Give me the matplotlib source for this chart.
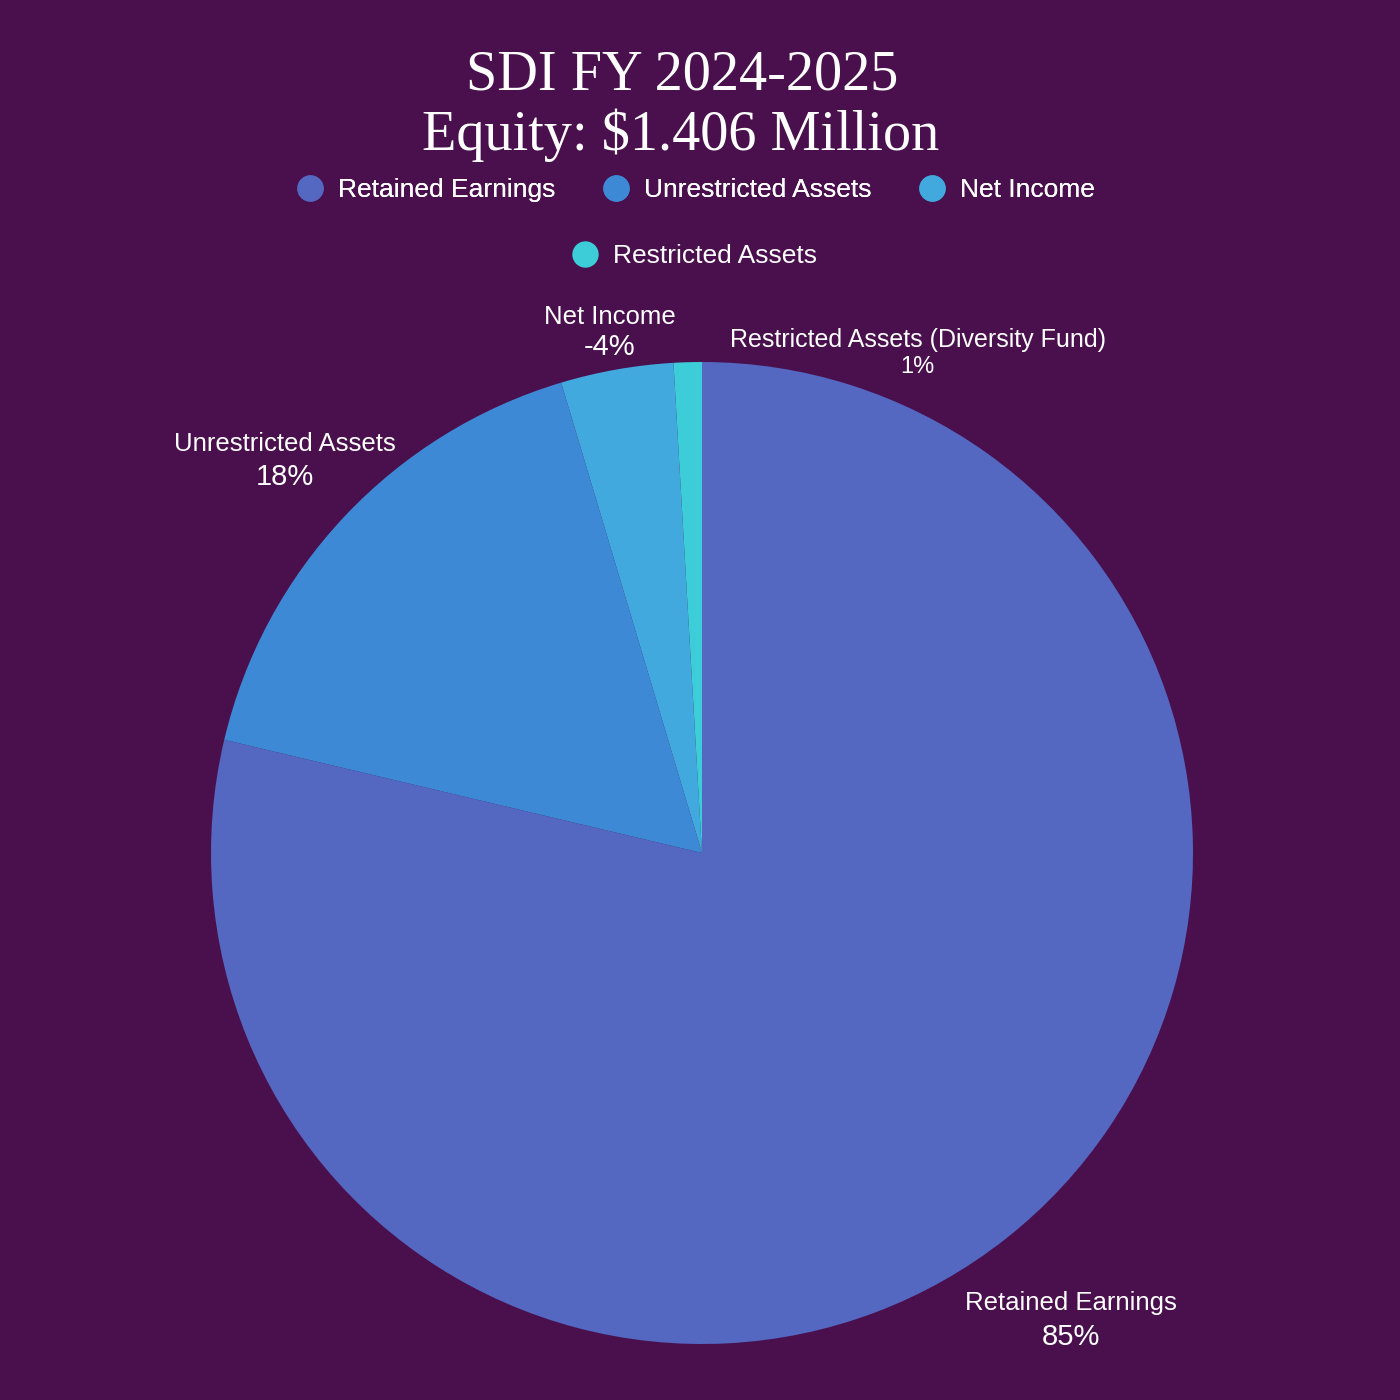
import numpy as np
import matplotlib
matplotlib.use("Agg")
import matplotlib.pyplot as plt
from matplotlib.lines import Line2D

categories = ["Retained Earnings", "Unrestricted Assets", "Net Income", "Restricted Assets"]
slice_labels = ["Retained Earnings", "Unrestricted Assets", "Net Income", "Restricted Assets (Diversity Fund)"]
percents = [85, 18, -4, 1]
colors = ["#5467C1", "#3D89D5", "#41A9DE", "#3CCDD8"]
bg = "#4A104E"

fig = plt.figure(figsize=(14, 14), dpi=100, facecolor=bg)
cx, cy, R = 702, 853, 491
ax = fig.add_axes([(cx - R) / 1400, (1400 - cy - R) / 1400, 2 * R / 1400, 2 * R / 1400])
ax.set_facecolor(bg)

wedges, _ = ax.pie(np.abs(percents), colors=colors, startangle=90, counterclock=False,
                   radius=1.0, wedgeprops=dict(linewidth=0))
ax.set_xlim(-1, 1)
ax.set_ylim(-1, 1)
ax.set_aspect("equal")
ax.axis("off")

sans = "Liberation Sans"
dist = [1.21, 1.168, 1.08, 1.11]
angle_shift = [0, 0, 0, -25]
fs_name = [18.5, 18.5, 18.5, 18]
fs_pct = [21, 21, 21, 17]
gap = [0.072, 0.07, 0.066, 0.06]
for w, lab, p, d, da, fn, fp, g in zip(wedges, slice_labels, percents, dist, angle_shift, fs_name, fs_pct, gap):
    th = np.deg2rad((w.theta1 + w.theta2) / 2 + da)
    x, y = d * np.cos(th), d * np.sin(th)
    ax.text(x, y + g / 2 - 0.004, lab, ha="center", va="center", color="white",
            fontsize=fn, family=sans, clip_on=False)
    ax.text(x, y - g / 2, f"{p}%", ha="center", va="center", color="white",
            fontsize=fp, family=sans, clip_on=False)

fig.text(0.487, 1 - 75 / 1400, "SDI FY 2024-2025", ha="center", va="center",
         color="white", fontsize=40.5, family="Liberation Serif")
fig.text(0.486, 1 - 135 / 1400, "Equity: $1.406 Million", ha="center", va="center",
         color="white", fontsize=40.5, family="Liberation Serif")

handles = [Line2D([], [], marker="o", linestyle="", markersize=19, markerfacecolor=c,
                  markeredgewidth=0) for c in colors]
leg1 = fig.legend(handles[:3], categories[:3], loc="center", bbox_to_anchor=(0.496, 1 - 190 / 1400),
                  ncol=3, frameon=False, labelcolor="white", prop=dict(family=sans, size=19),
                  handletextpad=0.45, columnspacing=1.7, handlelength=1.2)
fig.add_artist(leg1)
fig.legend(handles[3:], categories[3:], loc="center", bbox_to_anchor=(0.495, 1 - 256 / 1400),
           ncol=1, frameon=False, labelcolor="white", prop=dict(family=sans, size=19),
           handletextpad=0.45, handlelength=1.2)

fig.savefig("out.png", dpi=100, facecolor=bg)
